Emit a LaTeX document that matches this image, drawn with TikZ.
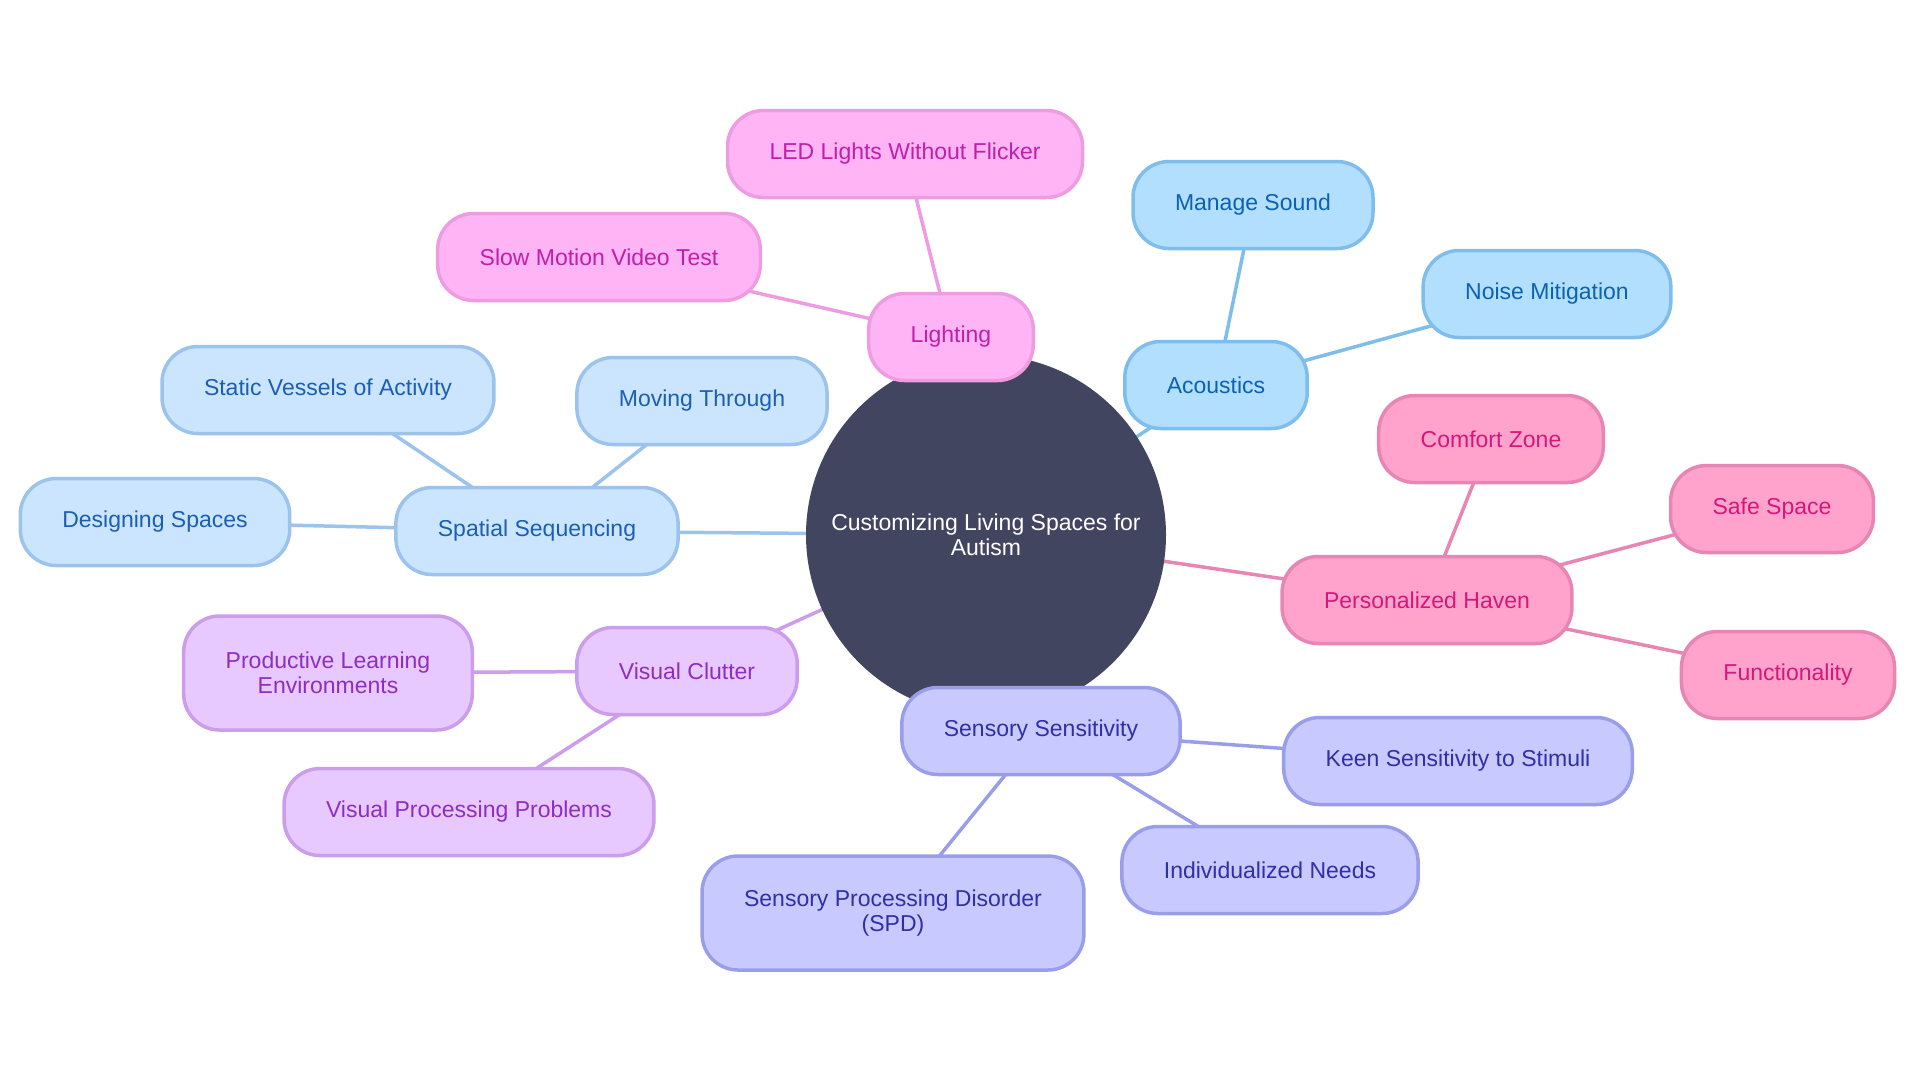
\documentclass[tikz,border=0pt]{standalone}
\usepackage{fontspec}
\setmainfont{Liberation Sans}
\usetikzlibrary{backgrounds}
\definecolor{pkF}{HTML}{FFB5F5}\definecolor{pkD}{HTML}{EE9CE2}\definecolor{pkT}{HTML}{C01FAA}
\definecolor{acF}{HTML}{B3DFFF}\definecolor{acD}{HTML}{7FBEEC}\definecolor{acT}{HTML}{0B62B0}
\definecolor{hvF}{HTML}{FFA3CD}\definecolor{hvD}{HTML}{E886B3}\definecolor{hvT}{HTML}{D4177A}
\definecolor{ssF}{HTML}{C8CAFF}\definecolor{ssD}{HTML}{9A9EEA}\definecolor{ssT}{HTML}{2F2FA6}
\definecolor{vcF}{HTML}{E8C9FF}\definecolor{vcD}{HTML}{CC9DEB}\definecolor{vcT}{HTML}{8E2EC0}
\definecolor{spF}{HTML}{CCE5FF}\definecolor{spD}{HTML}{9BC3EC}\definecolor{spT}{HTML}{1B5FB3}
\definecolor{rootF}{HTML}{424560}
\tikzset{
  box/.style={draw, line width=3.5pt, rounded corners=36pt, minimum height=87pt, inner xsep=42pt, inner ysep=6pt, align=center, font=\fontsize{23}{25}\selectfont},
  pk/.style={box, fill=pkF, draw=pkD, text=pkT},
  ac/.style={box, fill=acF, draw=acD, text=acT},
  hv/.style={box, fill=hvF, draw=hvD, text=hvT},
  ss/.style={box, fill=ssF, draw=ssD, text=ssT},
  vc/.style={box, fill=vcF, draw=vcD, text=vcT},
  sp/.style={box, fill=spF, draw=spD, text=spT},
  two/.style={minimum height=114pt},
  ln/.style={line width=3.5pt},
}
\begin{document}
\begin{tikzpicture}[x=1pt,y=-1pt]
\useasboundingbox (0,0) rectangle (1920,1080);
% root
\node[circle, fill=rootF, minimum size=360pt, inner sep=0pt, text=white, align=center, font=\fontsize{23}{25}\selectfont] (root) at (986,535) {Customizing Living Spaces for\\Autism};
% nodes
\node[pk] (li) at (951,337) {Lighting};
\node[pk] (led) at (905,154) {LED Lights Without Flicker};
\node[pk] (slow) at (599,257) {Slow Motion Video Test};
\node[ac] (ac) at (1216,385) {Acoustics};
\node[ac] (man) at (1253,205) {Manage Sound};
\node[ac] (noi) at (1547,294) {Noise Mitigation};
\node[hv] (hv) at (1427,600) {Personalized Haven};
\node[hv] (com) at (1491,439) {Comfort Zone};
\node[hv] (safe) at (1772,509) {Safe Space};
\node[hv] (fun) at (1788,675) {Functionality};
\node[ss] (ss) at (1041,731) {Sensory Sensitivity};
\node[ss] (keen) at (1458,761) {Keen Sensitivity to Stimuli};
\node[ss] (ind) at (1270,870) {Individualized Needs};
\node[ss, two] (spd) at (893,913) {Sensory Processing Disorder\\(SPD)};
\node[vc] (vc) at (687,671) {Visual Clutter};
\node[vc, two] (prod) at (328,673) {Productive Learning\\Environments};
\node[vc] (vpp) at (469,812) {Visual Processing Problems};
\node[sp] (sp) at (537,531) {Spatial Sequencing};
\node[sp] (stat) at (328,390) {Static Vessels of Activity};
\node[sp] (mov) at (702,401) {Moving Through};
\node[sp] (des) at (155,522) {Designing Spaces};
% connectors
\begin{scope}[on background layer]
\draw[ln, pkD] (root.center) -- (li.center);
\draw[ln, pkD] (li.center) -- (led.center);
\draw[ln, pkD] (li.center) -- (slow.center);
\draw[ln, acD] (root.center) -- (ac.center);
\draw[ln, acD] (ac.center) -- (man.center);
\draw[ln, acD] (ac.center) -- (noi.center);
\draw[ln, hvD] (root.center) -- (hv.center);
\draw[ln, hvD] (hv.center) -- (com.center);
\draw[ln, hvD] (hv.center) -- (safe.center);
\draw[ln, hvD] (hv.center) -- (fun.center);
\draw[ln, ssD] (root.center) -- (ss.center);
\draw[ln, ssD] (ss.center) -- (keen.center);
\draw[ln, ssD] (ss.center) -- (ind.center);
\draw[ln, ssD] (ss.center) -- (spd.center);
\draw[ln, vcD] (root.center) -- (vc.center);
\draw[ln, vcD] (vc.center) -- (prod.center);
\draw[ln, vcD] (vc.center) -- (vpp.center);
\draw[ln, spD] (root.center) -- (sp.center);
\draw[ln, spD] (sp.center) -- (stat.center);
\draw[ln, spD] (sp.center) -- (mov.center);
\draw[ln, spD] (sp.center) -- (des.center);
\end{scope}
\end{tikzpicture}
\end{document}
